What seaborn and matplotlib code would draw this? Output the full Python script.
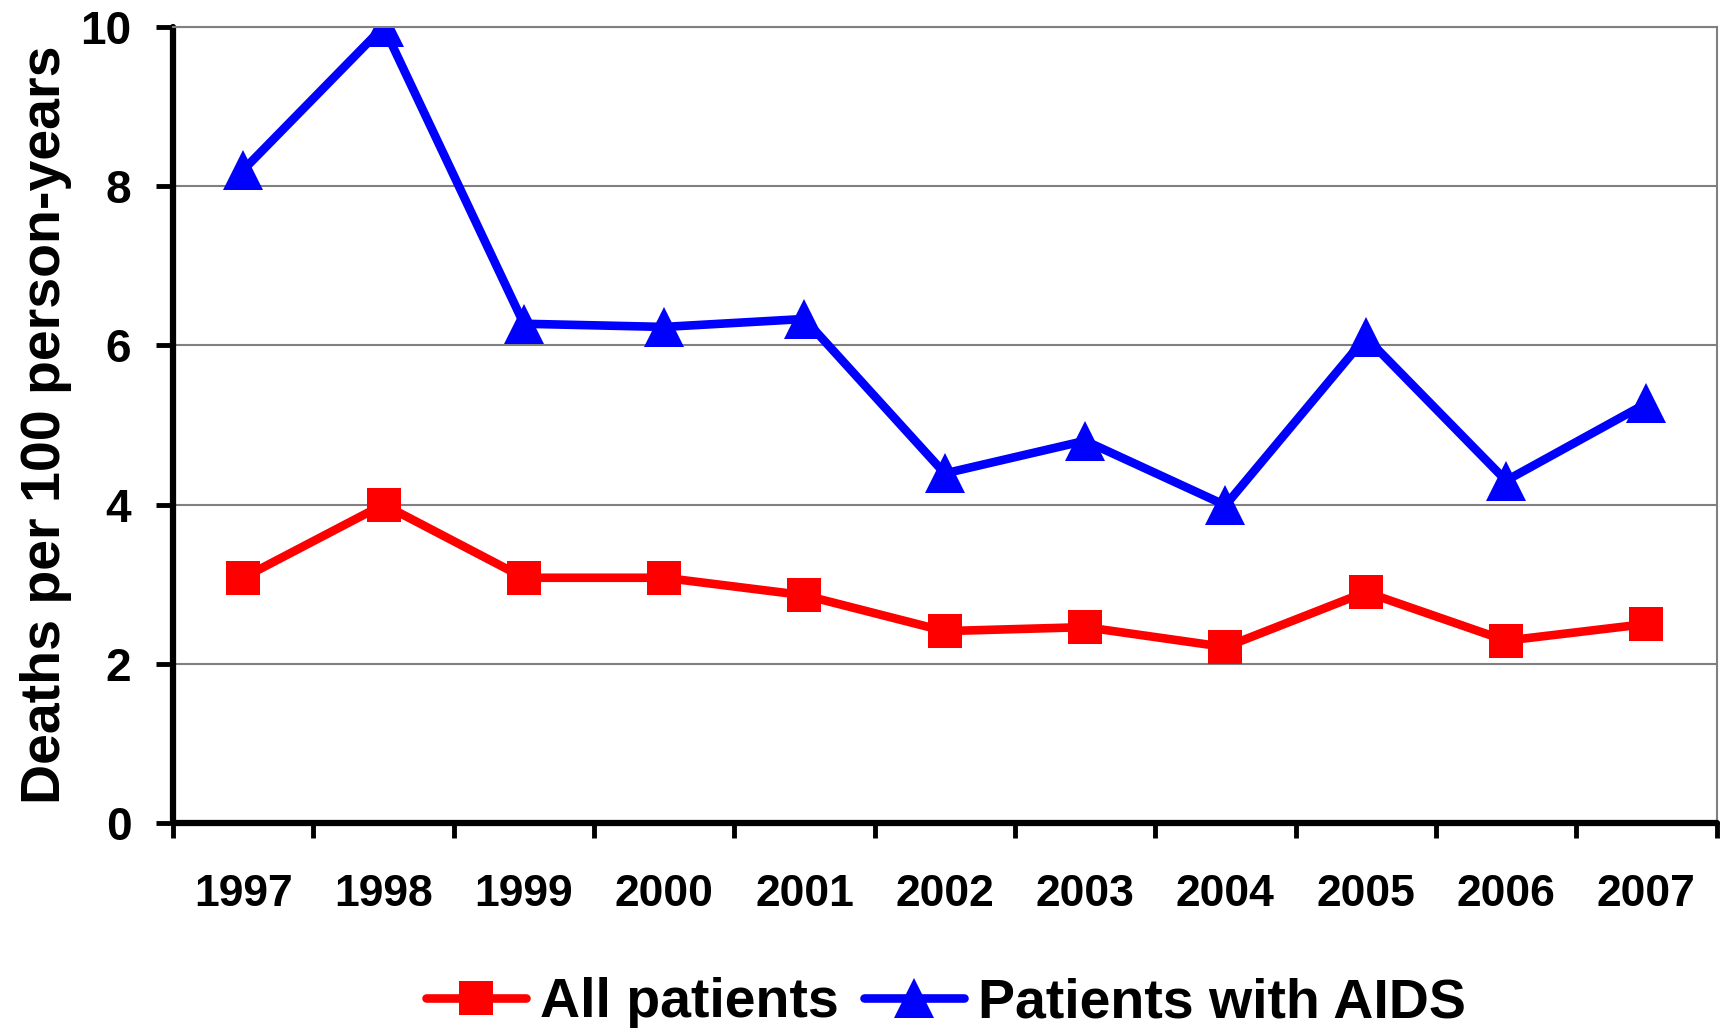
import pandas as pd
import seaborn as sns
import matplotlib.pyplot as plt
from matplotlib.ticker import FixedLocator, NullFormatter

# values
years = ['1997', '1998', '1999', '2000', '2001', '2002', '2003', '2004', '2005', '2006', '2007']
all_patients = [3.08, 4.0, 3.08, 3.08, 2.86, 2.41, 2.46, 2.21, 2.9, 2.29, 2.5]
aids_patients = [8.2, 10.0, 6.27, 6.23, 6.33, 4.39, 4.8, 3.99, 6.1, 4.3, 5.27]
y_ticks = [0, 2, 4, 6, 8, 10]

sns.set_style('white')
plt.rcParams['font.family'] = ['Liberation Sans', 'DejaVu Sans']
plt.rcParams['font.weight'] = 'bold'
plt.rcParams['text.color'] = 'black'
plt.rcParams['axes.labelcolor'] = 'black'
plt.rcParams['xtick.color'] = 'black'
plt.rcParams['ytick.color'] = 'black'

df = pd.DataFrame({
    'year': years * 2,
    'rate': all_patients + aids_patients,
    'group': ['All patients'] * len(years) + ['Patients with AIDS'] * len(years),
})

fig = plt.figure(figsize=(17.2, 10.28), dpi=100)
ax = fig.add_axes([0.1006, 0.1994, 0.8974, 0.7746])

sns.lineplot(data=df[df['group'] == 'All patients'], x='year', y='rate',
             color='#ff0000', marker='s', markersize=25, markeredgewidth=0,
             linewidth=6.2, label='All patients', ax=ax)
sns.lineplot(data=df[df['group'] == 'Patients with AIDS'], x='year', y='rate',
             color='#0000ff', marker='^', markersize=29, markeredgewidth=0,
             linewidth=6.2, label='Patients with AIDS', ax=ax)

ax.set_xlim(-0.5, len(years) - 0.5)
ax.set_ylim(0, 10)
ax.set_yticks(y_ticks)
ax.set_yticklabels([str(t) for t in y_ticks], fontsize=33, fontweight='bold')

# Excel-style category axis: tick marks between categories, labels centred
ax.xaxis.set_major_locator(FixedLocator([i - 0.5 for i in range(len(years) + 1)]))
ax.xaxis.set_major_formatter(NullFormatter())
ax.xaxis.set_minor_locator(FixedLocator(list(range(len(years)))))
ax.set_xticklabels(years, minor=True, fontsize=32, fontweight='bold')
ax.tick_params(axis='x', which='major', bottom=True, direction='out', length=11, width=3.5, color='black')
ax.tick_params(axis='x', which='minor', bottom=True, length=0, pad=37)
ax.tick_params(axis='y', left=True, direction='out', length=12, width=3.5, color='black', pad=18)

ax.grid(axis='y', color='#808080', linewidth=1.5)
ax.set_axisbelow(True)
for side in ['left', 'bottom']:
    ax.spines[side].set_linewidth(4.5)
    ax.spines[side].set_color('black')
    ax.spines[side].set_capstyle('round')
for side in ['right', 'top']:
    ax.spines[side].set_color('#808080')
    ax.spines[side].set_linewidth(1.5)

ax.set_xlabel('')
ax.set_ylabel('Deaths per 100 person-years', fontsize=40, fontweight='bold', labelpad=6)

handles, labels = ax.get_legend_handles_labels()
ax.legend(handles, labels, loc='lower center', bbox_to_anchor=(0.55, -0.028),
          bbox_transform=fig.transFigure, ncol=2, frameon=False,
          prop={'size': 40, 'weight': 'bold'}, handlelength=1.8,
          handletextpad=0.25, columnspacing=0.45, borderpad=0)

fig.savefig('out.png', dpi=100)
